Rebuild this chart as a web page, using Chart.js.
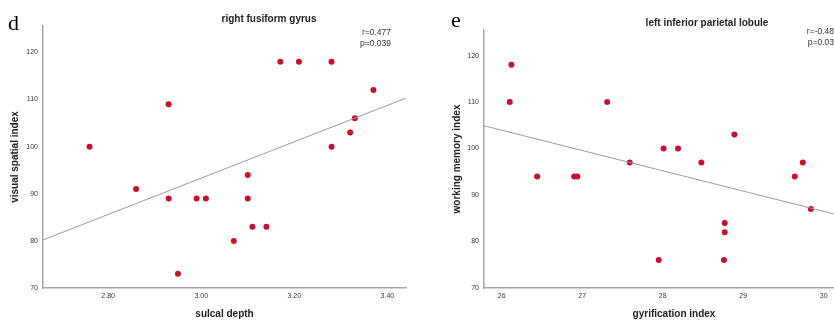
<!DOCTYPE html>
<html>
<head>
<meta charset="utf-8">
<script src="https://cdn.jsdelivr.net/npm/chart.js@4/dist/chart.umd.min.js"></script>
<style>
  html, body { margin: 0; padding: 0; background: #fff; overflow: hidden; width: 834px; height: 322px; }
  canvas { position: absolute; top: 0; }
  #chartD { left: 0; }
  #chartE { left: 415px; }
</style>
</head>
<body>
<canvas id="chartD" width="415" height="322"></canvas>
<canvas id="chartE" width="460" height="322"></canvas>
<script>
// panel d - right fusiform gyrus
var sulcalDepth = [3.17, 3.21, 3.28, 3.37, 2.93, 3.33, 3.32, 3.28, 2.76, 2.86, 2.93, 2.99, 3.01, 3.10, 3.10, 3.11, 3.14, 3.07, 2.95];
var visualSpatial = [118, 118, 118, 112, 109, 106, 103, 100, 100, 91, 89, 89, 89, 94, 89, 83, 83, 80, 73];
var fitD_x = [2.66, 3.44];
var fitD_y = [80.2, 110.3];

// panel e - left inferior parietal lobule
var gyrification = [26.12, 26.10, 27.31, 28.01, 28.19, 28.89, 26.44, 26.90, 26.94, 27.59, 28.48, 29.74, 29.64, 29.84, 28.77, 28.77, 27.95, 28.76];
var workingMemory = [118, 110, 110, 100, 100, 103, 94, 94, 94, 97, 97, 97, 94, 87, 84, 82, 76, 76];
var fitE_x = [25.78, 30.5];
var fitE_y = [104.9, 84.3];

var yTicks = [70, 80, 90, 100, 110, 120];

var dotColor = '#c8102e';
var axisColor = '#a6a6a6';
var tickColor = '#333';

function toPoints(xs, ys) {
  var out = [];
  for (var i = 0; i < xs.length; i++) out.push({x: xs[i], y: ys[i]});
  return out;
}

var panelText = {
  id: 'panelText',
  afterDraw: function (chart, args, o) {
    var ctx = chart.ctx;
    ctx.save();
    ctx.fillStyle = '#000';
    ctx.textBaseline = 'alphabetic';
    ctx.textAlign = 'left';
    ctx.font = '22px "Liberation Serif", "Times New Roman", serif';
    ctx.fillText(o.letter, o.letterX, o.letterY);

    ctx.fillStyle = '#222';
    ctx.textBaseline = 'middle';
    ctx.textAlign = 'center';
    ctx.font = 'bold 10px "Liberation Sans", Arial, sans-serif';
    ctx.fillText(o.title, o.titleX, o.titleY);

    ctx.fillStyle = '#333';
    ctx.textAlign = 'right';
    ctx.font = '8.5px "Liberation Sans", Arial, sans-serif';
    ctx.fillText(o.r, o.statX, o.statY);
    ctx.fillText(o.p, o.statX, o.statY + 11);
    ctx.restore();
  }
};

function makeChart(id, xs, ys, fx, fy, xmin, xmax, ymax, xstep, xfmt, xTitle, yTitle, yWidth, yTitlePad, pad, txt) {
  return new Chart(document.getElementById(id), {
    type: 'scatter',
    data: {
      datasets: [
        {
          type: 'line',
          data: toPoints(fx, fy),
          borderColor: '#9a9a9a',
          borderWidth: 1,
          pointRadius: 0,
          fill: false
        },
        {
          data: toPoints(xs, ys),
          backgroundColor: dotColor,
          borderColor: dotColor,
          borderWidth: 0,
          pointRadius: 3
        }
      ]
    },
    options: {
      responsive: false,
      animation: false,
      layout: { padding: pad },
      plugins: {
        legend: { display: false },
        tooltip: { enabled: false },
        panelText: txt
      },
      scales: {
        x: {
          type: 'linear',
          min: xmin,
          max: xmax,
          grid: { display: false, drawTicks: false, tickLength: 0 },
          border: { color: axisColor, width: 1.5 },
          ticks: {
            stepSize: xstep,
            includeBounds: false,
            color: tickColor,
            padding: 4,
            font: { size: 7, family: '"Liberation Sans", Arial, sans-serif' },
            callback: xfmt
          },
          title: {
            display: true,
            text: xTitle,
            color: '#222',
            font: { size: 10, weight: 'bold', family: '"Liberation Sans", Arial, sans-serif' },
            padding: { top: 0, bottom: 2 }
          },
          afterFit: function (s) { s.height = 34; }
        },
        y: {
          min: 70,
          max: ymax,
          grid: { display: false, drawTicks: false, tickLength: 0 },
          border: { color: axisColor, width: 1.5 },
          afterBuildTicks: function (s) {
            s.ticks = yTicks.map(function (v) { return {value: v}; });
          },
          ticks: {
            color: tickColor,
            padding: 5,
            font: { size: 7, family: '"Liberation Sans", Arial, sans-serif' }
          },
          title: {
            display: true,
            text: yTitle,
            color: '#222',
            font: { size: 10, weight: 'bold', family: '"Liberation Sans", Arial, sans-serif' },
            padding: { top: yTitlePad, bottom: 0 }
          },
          afterFit: function (s) { s.width = yWidth; }
        }
      }
    },
    plugins: [panelText]
  });
}

makeChart('chartD', sulcalDepth, visualSpatial, fitD_x, fitD_y, 2.66, 3.44, 125.6, 0.2,
  function (v) { return v.toFixed(2); },
  'sulcal depth', 'visual spatial index', 43, 9,
  { top: 26, right: 9, left: 0, bottom: 0 },
  { letter: 'd', letterX: 8, letterY: 30, title: 'right fusiform gyrus', titleX: 269, titleY: 19,
    r: 'r=0.477', p: 'p=0.039', statX: 391, statY: 33 });

makeChart('chartE', gyrification, workingMemory, fitE_x, fitE_y, 25.78, 30.5, 125.5, 1,
  function (v) { return String(v); },
  'gyrification index', 'working memory index', 69, 36,
  { top: 30, right: 11, left: 0, bottom: 0 },
  { letter: 'e', letterX: 36, letterY: 27, title: 'left inferior parietal lobule', titleX: 292, titleY: 23,
    r: 'r=-0.48', p: 'p=0.03', statX: 419, statY: 32 });
</script>
</body>
</html>
